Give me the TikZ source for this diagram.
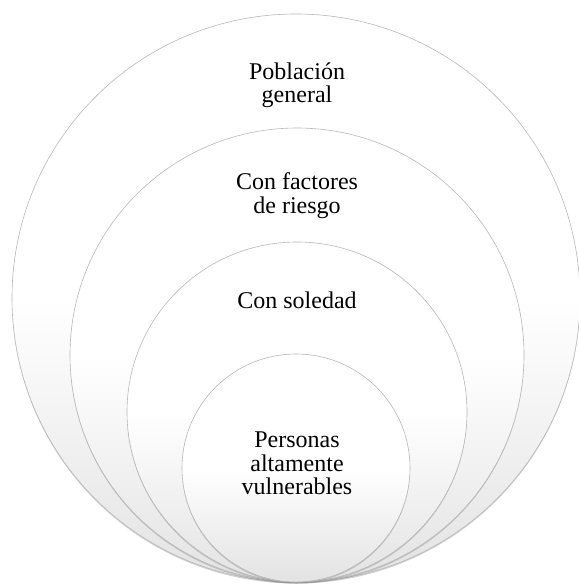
\documentclass[tikz,border=0pt]{standalone}
\usepackage{fontspec}
\setmainfont{Liberation Serif}
\usetikzlibrary{shadows}
\begin{document}
\begin{tikzpicture}[x=1pt,y=1pt,
  ring/.style={draw=black!28, line width=0.6pt, top color=white, bottom color=black!11, middle color=white,
    drop shadow={opacity=0.35, shadow xshift=0pt, shadow yshift=-1.5pt}},
  lbl/.style={align=center, font=\fontsize{24}{23.5}\selectfont, inner sep=0pt}]
\useasboundingbox (0,0) rectangle (578,-585);
\fill[white] (0,0) rectangle (578,-585);
\path[ring] (296,-298) circle (284);
\path[ring] (297,-355) circle (227);
\path[ring] (297,-412) circle (170);
\path[ring] (296,-468) circle (114);
\node[lbl] (pg) at (297,-85) {Población\\general};
\node[lbl] (fr) at (297,-195.5) {Con factores\\de riesgo};
\node[lbl] (so) at (297,-300.5) {Con soledad};
\node[lbl] (pv) at (297,-463.5) {Personas\\altamente\\vulnerables};
\end{tikzpicture}
\end{document}
